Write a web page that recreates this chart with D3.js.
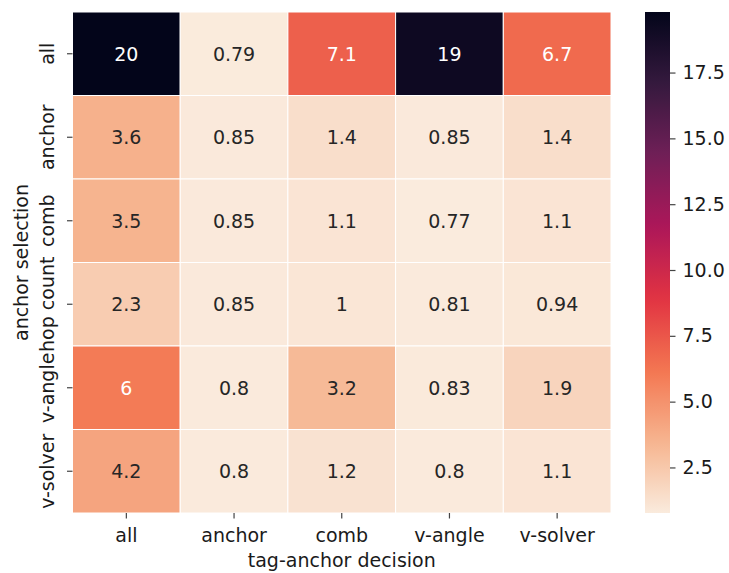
<!DOCTYPE html>
<html>
<head>
<meta charset="utf-8">
<script src="https://cdn.jsdelivr.net/npm/d3@7"></script>
<style>
  body { margin: 0; background: #fff; }
  text { font-family: "DejaVu Sans", sans-serif; }
</style>
</head>
<body>
<svg id="chart" width="729" height="573"></svg>
<script>
// rows (y) and columns (x) of the heatmap
var rowLabels = ["all", "anchor", "comb", "hop count", "v-angle", "v-solver"];
var colLabels = ["all", "anchor", "comb", "v-angle", "v-solver"];

// one array per row
var rowAll      = [19.8, 0.79, 7.1, 19.2, 6.7];
var rowAnchor   = [3.6, 0.85, 1.4, 0.85, 1.4];
var rowComb     = [3.5, 0.85, 1.1, 0.77, 1.1];
var rowHopCount = [2.3, 0.85, 1.0, 0.81, 0.94];
var rowVAngle   = [6.0, 0.8, 3.2, 0.83, 1.9];
var rowVSolver  = [4.2, 0.8, 1.2, 0.8, 1.1];
var values = [rowAll, rowAnchor, rowComb, rowHopCount, rowVAngle, rowVSolver];

var cbarTicks = [2.5, 5.0, 7.5, 10.0, 12.5, 15.0, 17.5];

// seaborn "rocket" samples, reversed later
var rocket = ["#03051a", "#35193e", "#701f57", "#ad1759", "#e13342", "#f37651", "#f6b48f", "#faebdd"];

var svg = d3.select("#chart");
var fs = 19;

// plot area
var box = {x0: 72.5, x1: 611, y0: 12, y1: 513};
var cbar = {x0: 645, x1: 670};

var flat = [].concat.apply([], values);
var vmin = d3.min(flat), vmax = d3.max(flat);

var rocketInterp = d3.piecewise(d3.interpolateRgb, rocket);
var color = function(v) {
  var t = (v - vmin) / (vmax - vmin);
  return rocketInterp(1 - t);
};

// relative luminance, same rule seaborn uses to pick the annotation colour
function luminance(c) {
  var rgb = d3.rgb(c);
  var f = function(u) {
    u = u / 255;
    return u <= 0.03928 ? u / 12.92 : Math.pow((u + 0.055) / 1.055, 2.4);
  };
  return 0.2126 * f(rgb.r) + 0.7152 * f(rgb.g) + 0.0722 * f(rgb.b);
}

var x = d3.scaleBand().domain(colLabels).range([box.x0, box.x1]);
var y = d3.scaleBand().domain(rowLabels).range([box.y0, box.y1]);

var cells = [];
values.forEach(function(row, i) {
  row.forEach(function(v, j) {
    cells.push({r: rowLabels[i], c: colLabels[j], v: v});
  });
});

var g = svg.append("g");
g.selectAll("rect.cell")
  .data(cells)
  .enter().append("rect")
  .attr("class", "cell")
  .attr("x", function(d) { return x(d.c); })
  .attr("y", function(d) { return y(d.r); })
  .attr("width", x.bandwidth())
  .attr("height", y.bandwidth())
  .attr("fill", function(d) { return color(d.v); })
  .attr("stroke", "#fff")
  .attr("stroke-width", 1);

// annotations, formatted like "%.2g"
var fmt = d3.format(".2");
g.selectAll("text.annot")
  .data(cells)
  .enter().append("text")
  .attr("class", "annot")
  .attr("x", function(d) { return x(d.c) + x.bandwidth() / 2; })
  .attr("y", function(d) { return y(d.r) + y.bandwidth() / 2; })
  .attr("text-anchor", "middle")
  .attr("dominant-baseline", "central")
  .attr("font-size", fs)
  .attr("fill", function(d) { return luminance(color(d.v)) > 0.408 ? "#262626" : "#ffffff"; })
  .text(function(d) { return fmt(d.v); });

// axes
var tickLen = 5.5, tickPad = 10;
var xAxis = d3.axisBottom(x).tickSizeOuter(0).tickSizeInner(tickLen).tickPadding(tickPad);
var gx = svg.append("g").attr("transform", "translate(0," + box.y1 + ")").call(xAxis);
gx.select(".domain").remove();
gx.selectAll("text").attr("font-size", fs).attr("fill", "#1a1a1a").attr("font-family", "DejaVu Sans");
gx.selectAll("line").attr("stroke", "#444").attr("stroke-width", 1.2);

var yAxis = d3.axisLeft(y).tickSizeOuter(0).tickSizeInner(tickLen);
var gy = svg.append("g").attr("transform", "translate(" + box.x0 + ",0)").call(yAxis);
gy.select(".domain").remove();
gy.selectAll("line").attr("stroke", "#444").attr("stroke-width", 1.2);
gy.selectAll("text")
  .attr("font-size", fs).attr("fill", "#1a1a1a").attr("font-family", "DejaVu Sans")
  .attr("x", null).attr("dy", null)
  .attr("text-anchor", "middle")
  .attr("transform", "translate(-18.5,0) rotate(-90)");

svg.append("text")
  .attr("x", (box.x0 + box.x1) / 2)
  .attr("y", 567)
  .attr("text-anchor", "middle")
  .attr("font-size", fs)
  .attr("fill", "#1a1a1a")
  .text("tag-anchor decision");

svg.append("text")
  .attr("transform", "translate(28," + (box.y0 + box.y1) / 2 + ") rotate(-90)")
  .attr("text-anchor", "middle")
  .attr("font-size", fs)
  .attr("fill", "#1a1a1a")
  .text("anchor selection");

// colour bar
var cy = d3.scaleLinear().domain([vmin, vmax]).range([box.y1, box.y0]);
var grad = svg.append("defs").append("linearGradient")
  .attr("id", "cgrad").attr("x1", 0).attr("y1", 1).attr("x2", 0).attr("y2", 0);
d3.range(0, 1.0001, 0.02).forEach(function(t) {
  grad.append("stop").attr("offset", t).attr("stop-color", rocketInterp(1 - t));
});
svg.append("rect")
  .attr("x", cbar.x0).attr("y", box.y0)
  .attr("width", cbar.x1 - cbar.x0).attr("height", box.y1 - box.y0)
  .attr("fill", "url(#cgrad)");

var cAxis = d3.axisRight(cy).tickValues(cbarTicks).tickFormat(d3.format(".1f"))
  .tickSizeOuter(0).tickSizeInner(tickLen).tickPadding(7);
var gc = svg.append("g").attr("transform", "translate(" + cbar.x1 + ",0)").call(cAxis);
gc.select(".domain").remove();
gc.selectAll("line").attr("stroke", "#444").attr("stroke-width", 1.2);
gc.selectAll("text").attr("font-size", fs).attr("fill", "#1a1a1a").attr("font-family", "DejaVu Sans");
</script>
</body>
</html>
